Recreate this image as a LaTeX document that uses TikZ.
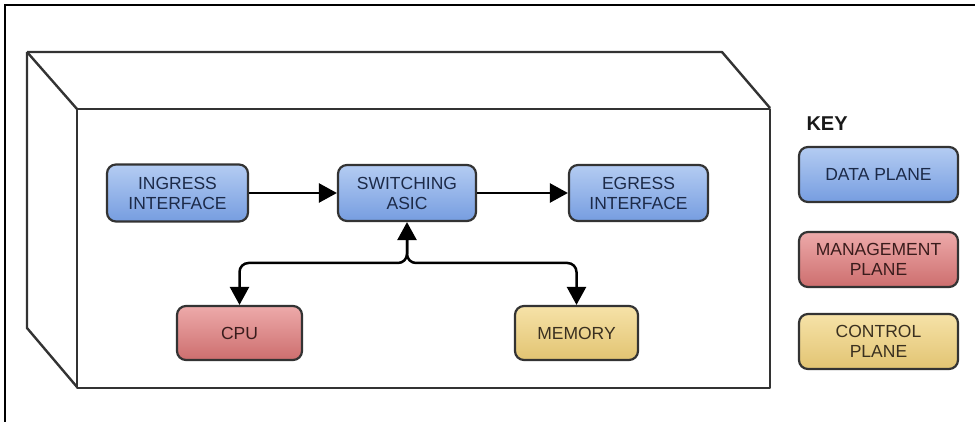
\documentclass[tikz,border=0pt]{standalone}
\usepackage{fontspec}
\setmainfont{Liberation Sans}
\usetikzlibrary{arrows.meta}
\definecolor{bluetop}{HTML}{B4CCF2}
\definecolor{bluebot}{HTML}{769DE0}
\definecolor{redtop}{HTML}{EDAAAA}
\definecolor{redbot}{HTML}{CD6E6E}
\definecolor{yeltop}{HTML}{F6E2A8}
\definecolor{yelbot}{HTML}{E2C472}
\definecolor{edgegray}{HTML}{333333}
\definecolor{bluetext}{HTML}{1C2A48}
\definecolor{redtext}{HTML}{3A1C1C}
\definecolor{yeltext}{HTML}{3A3020}
\tikzset{
  plane/.style={draw=edgegray, line width=2.2pt, rounded corners=9pt, align=center,
    font=\fontsize{17.5}{20}\selectfont, inner sep=0pt},
  dataplane/.style={plane, top color=bluetop, bottom color=bluebot, text=bluetext},
  mgmtplane/.style={plane, top color=redtop, bottom color=redbot, text=redtext},
  ctrlplane/.style={plane, top color=yeltop, bottom color=yelbot, text=yeltext},
  conn/.style={line width=2.5pt, black, -{Triangle[length=18pt,width=19pt]}},
  boxline/.style={line width=2.4pt, edgegray, line join=round},
}
\begin{document}
\begin{tikzpicture}[x=1pt,y=-1pt]
\useasboundingbox (0,0) rectangle (978,422);
% frame
\draw[line width=2.5pt, black] (5,422) -- (5,5) -- (975,5);
% box (3D)
\draw[boxline] (27,52) -- (722,52) -- (770,108);
\draw[boxline] (27,52) -- (77,109);
\draw[boxline] (27,52) -- (27,328) -- (77,387);
\draw[boxline] (77,109) rectangle (770,388);
% nodes
\node[dataplane, minimum width=141pt, minimum height=57pt] (ing) at (177.5,193) {INGRESS\\INTERFACE};
\node[dataplane, minimum width=138pt, minimum height=56pt] (sw) at (407,193) {SWITCHING\\ASIC};
\node[dataplane, minimum width=139pt, minimum height=56pt] (eg) at (638.5,193) {EGRESS\\INTERFACE};
\node[mgmtplane, minimum width=125pt, minimum height=54pt] (cpu) at (239.5,333) {CPU};
\node[ctrlplane, minimum width=123pt, minimum height=54pt] (mem) at (576.5,333) {MEMORY};
\coordinate (j) at (407,263);
% connectors
\draw[conn] (ing.east) -- (sw.west);
\draw[conn] (sw.east) -- (eg.west);
\draw[conn, {Triangle[length=18pt,width=19pt]}-{Triangle[length=18pt,width=19pt]}, rounded corners=9pt] (sw.south) -- (sw.south |- j) -- (cpu.north |- j) -- (cpu.north);
\draw[conn, rounded corners=9pt] (sw.south |- 0,240) -- (sw.south |- j) -- (mem.north |- j) -- (mem.north);
% key
\node[anchor=west, font=\bfseries\fontsize{20}{22}\selectfont, text=black!90] (key) at (803,124) {KEY};
\node[dataplane, minimum width=159pt, minimum height=55pt] (kd) at (878.5,174.5) {DATA PLANE};
\node[mgmtplane, minimum width=159pt, minimum height=55pt] (km) at (878.5,259.5) {MANAGEMENT\\PLANE};
\node[ctrlplane, minimum width=159pt, minimum height=55pt] (kc) at (878.5,341.5) {CONTROL\\PLANE};
\end{tikzpicture}
\end{document}
